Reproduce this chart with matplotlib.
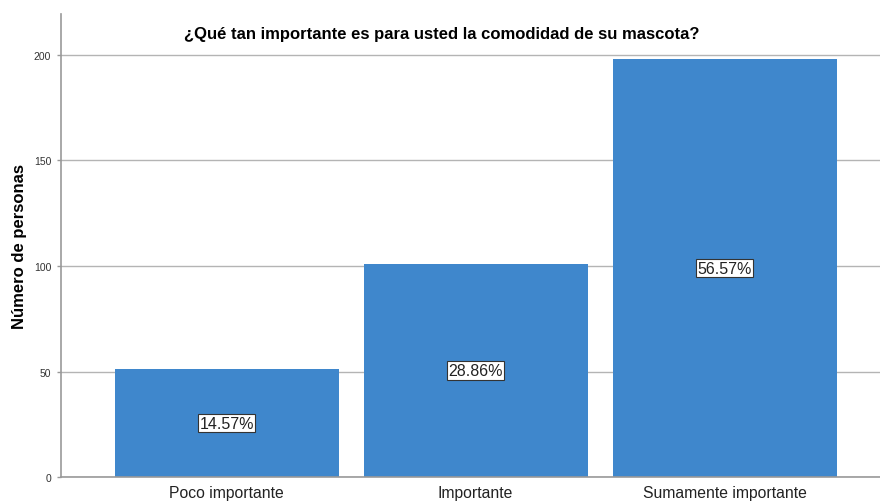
import matplotlib.pyplot as plt
import numpy as np

plt.rcParams['font.family'] = ['Liberation Sans', 'DejaVu Sans']

categorias = ['Poco importante', 'Importante', 'Sumamente importante']
personas = [51, 101, 198]
porcentajes = ['14.57%', '28.86%', '56.57%']

titulo = '¿Qué tan importante es para usted la comodidad de su mascota?'

fig = plt.figure(figsize=(8.8, 5.02), dpi=100)
ax = fig.add_axes([0.0693, 0.0478, 0.9307, 0.9222])

x = np.arange(len(categorias))
ax.bar(x, personas, width=0.9, color='#3f87cc', zorder=2)

for xi, yi, txt in zip(x, personas, porcentajes):
    ax.text(xi, yi / 2, txt, ha='center', va='center', fontsize=11.5, zorder=4,
            color='#222222',
            bbox=dict(boxstyle='square,pad=0.1', fc='white', ec='#333333', lw=0.8))

ax.set_xlim(-0.665, 2.624)
ax.set_ylim(0, 219.4)
ax.set_yticks([0, 50, 100, 150, 200])
ax.set_xticks(x)
ax.set_xticklabels(categorias, fontsize=11.3, color='#222222')
ax.tick_params(axis='y', labelsize=7.5, length=3, width=1, color='#999999',
               labelcolor='#333333', pad=4)
ax.tick_params(axis='x', length=0, pad=6)
ax.yaxis.grid(True, color='#b4b4b4', lw=1, zorder=1)

for s in ['top', 'right']:
    ax.spines[s].set_visible(False)
ax.spines['left'].set_color('#999999')
ax.spines['bottom'].set_color('#999999')
ax.spines['left'].set_linewidth(1.2)
ax.spines['bottom'].set_linewidth(1.2)

ax.set_ylabel('Número de personas', fontsize=12, fontweight='bold', labelpad=5)
ax.text(0.465, 0.958, titulo, transform=ax.transAxes, ha='center', va='center',
        fontsize=12, fontweight='bold')

fig.savefig('out.png', dpi=100)
